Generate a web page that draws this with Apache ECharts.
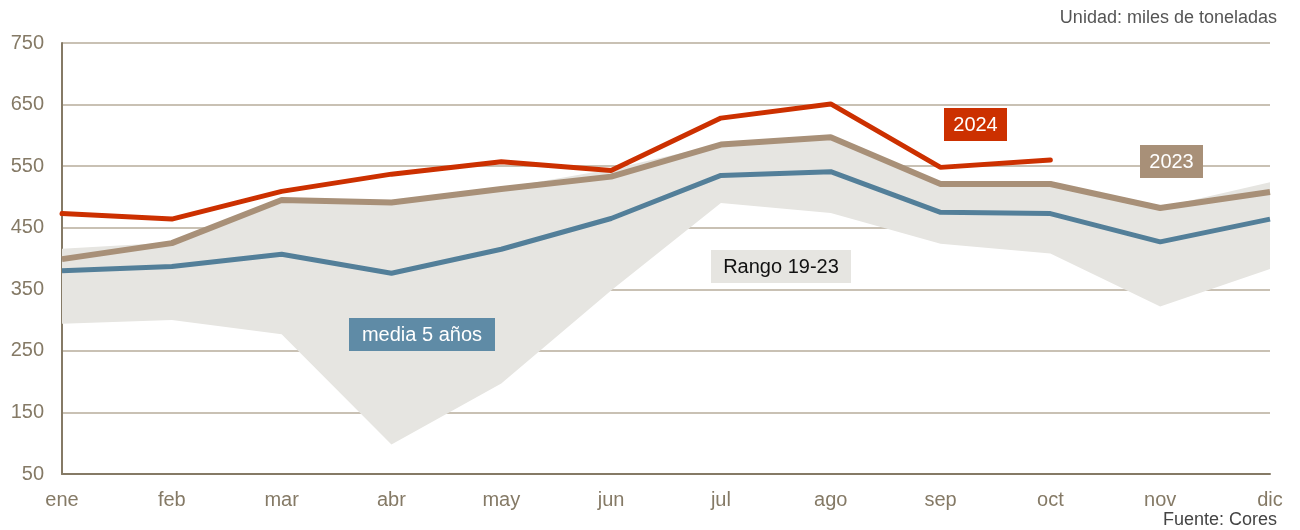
<!DOCTYPE html>
<html>
<head>
<meta charset="utf-8">
<script src="https://cdn.jsdelivr.net/npm/echarts@6/dist/echarts.min.js"></script>
<style>
    html, body { margin: 0; padding: 0; background: #fff; }
    #chart { width: 1300px; height: 530px; }
</style>
</head>
<body>
<div id="chart"></div>
<script>
    // meses
    var months = ['ene', 'feb', 'mar', 'abr', 'may', 'jun', 'jul', 'ago', 'sep', 'oct', 'nov', 'dic'];
    // miles de toneladas
    var y2024 = [473, 464, 509, 537, 557, 543, 628, 651, 548, 560];
    var y2023 = [399, 425, 495, 491, 513, 533, 585, 597, 521, 521, 482, 508];
    var media5 = [380, 387, 407, 376, 415, 465, 535, 541, 475, 473, 427, 464];
    var rangoMin = [294, 300, 277, 98, 197, 348, 490, 474, 424, 408, 322, 383];
    var rangoMax = [416, 426, 495, 491, 514, 545, 586, 598, 522, 522, 483, 524];
    var yTicks = [50, 150, 250, 350, 450, 550, 650, 750];

    var rangoDiff = [];
    for (var i = 0; i < rangoMin.length; i++) {
        rangoDiff.push(rangoMax[i] - rangoMin[i]);
    }

    var axisColor = '#857a66';
    var font = 'Liberation Sans, Arial, sans-serif';

    function tag(text, left, top, w, bg, fg) {
        return {
            type: 'group',
            left: left,
            top: top,
            z: 100,
            children: [
                { type: 'rect', z: 100, shape: { x: 0, y: 0, width: w, height: 33 }, style: { fill: bg } },
                {
                    type: 'text', z: 101, x: w / 2, y: 17,
                    style: { text: text, fill: fg, font: '20px ' + font, textAlign: 'center', textVerticalAlign: 'middle' }
                }
            ]
        };
    }

    var chart = echarts.init(document.getElementById('chart'));
    var option = {
        animation: false,
        grid: { left: 62, right: 30, top: 43, bottom: 56 },
        xAxis: {
            type: 'category',
            data: months,
            boundaryGap: false,
            z: 10,
            axisLine: { lineStyle: { color: axisColor, width: 2 } },
            axisTick: { show: false },
            axisLabel: { color: axisColor, fontSize: 20, fontFamily: font, margin: 16, interval: 0 }
        },
        yAxis: {
            type: 'value',
            min: yTicks[0],
            max: yTicks[yTicks.length - 1],
            interval: 100,
            z: 0,
            axisLine: { show: true, lineStyle: { color: axisColor, width: 2 } },
            axisTick: { show: false },
            axisLabel: { color: axisColor, fontSize: 20, fontFamily: font, margin: 18 },
            splitLine: { lineStyle: { color: '#c9c1b4', width: 2 } }
        },
        series: [
            {
                name: 'base',
                type: 'line',
                stack: 'rango',
                data: rangoMin,
                symbol: 'none',
                z: 3,
                lineStyle: { width: 0 },
                areaStyle: { opacity: 0 }
            },
            {
                name: 'Rango 19-23',
                type: 'line',
                stack: 'rango',
                data: rangoDiff,
                symbol: 'none',
                z: 3,
                lineStyle: { width: 0 },
                areaStyle: { color: '#e6e5e1', opacity: 1 }
            },
            {
                name: 'media 5 años',
                type: 'line',
                data: media5,
                symbol: 'none',
                z: 4,
                lineStyle: { color: '#537f99', width: 5 }
            },
            {
                name: '2023',
                type: 'line',
                data: y2023,
                symbol: 'none',
                z: 5,
                lineStyle: { color: '#a89078', width: 6 }
            },
            {
                name: '2024',
                type: 'line',
                data: y2024,
                symbol: 'none',
                z: 6,
                lineStyle: { color: '#cc3000', width: 5, cap: 'round' }
            }
        ],
        graphic: [
            {
                type: 'text', right: 23, top: 9,
                style: { text: 'Unidad: miles de toneladas', fill: '#555', font: '18px ' + font }
            },
            {
                type: 'text', right: 23, top: 511,
                style: { text: 'Fuente: Cores', fill: '#444', font: '18px ' + font }
            },
            tag('Rango 19-23', 711, 250, 140, '#e6e5e1', '#111'),
            tag('media 5 años', 349, 318, 146, '#5f8ba6', '#fff'),
            tag('2024', 944, 108, 63, '#cc3000', '#fff'),
            tag('2023', 1140, 145, 63, '#a89078', '#fff')
        ]
    };
    chart.setOption(option);
</script>
</body>
</html>
